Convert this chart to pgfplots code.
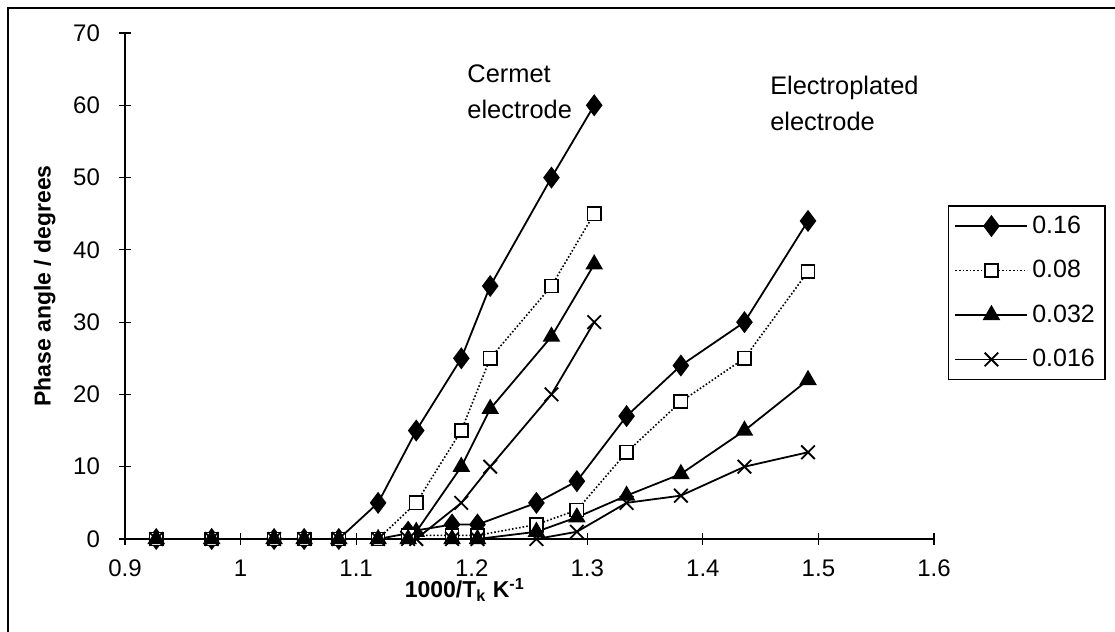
\documentclass[border=0pt]{standalone}
\usepackage{fontspec}
\setmainfont{Liberation Sans}
\usepackage{pgfplots}
\pgfplotsset{compat=1.18}
\begin{document}
\begin{tikzpicture}
\path[use as bounding box] (-62.5pt,-46.5pt) rectangle (495pt,269.5pt);
\draw[line width=0.8pt] (-58.5pt,-46.5pt) -- (-58.5pt,265.5pt) -- (495pt,265.5pt);
\begin{axis}[
    at={(0,0)}, anchor=origin,
    scale only axis,
    width=404.5pt, height=253pt,
    xmin=0.9, xmax=1.6, ymin=0, ymax=70,
    xtick={0.9,1,...,1.6}, ytick={0,10,...,70},
    axis x line=bottom, axis y line=left,
    axis line style={-, line width=0.8pt},
    tick align=center, major tick length=6pt,
    tick style={black, line width=0.6pt},
    /pgf/number format/assume math mode=true,
    ticklabel style={font=\fontsize{12}{14}\selectfont},
    xticklabel style={yshift=-4pt},
    yticklabel style={xshift=-6pt},
    xlabel={\textbf{1000/T\textsubscript{k} K\textsuperscript{-1}}},
    ylabel={\textbf{Phase angle / degrees}},
    label style={font=\fontsize{11.5}{13}\selectfont},
    xlabel style={at={(axis description cs:0.42,0)}, anchor=north, yshift=-16pt},
    ylabel style={yshift=2pt},
    clip=false,
    legend style={at={(axis description cs:1.017,0.66)}, anchor=north west,
        font=\fontsize{12.5}{14}\selectfont, draw=black, line width=0.8pt,
        row sep=8pt, inner sep=3pt, cells={anchor=west}},
    legend image code/.code={\draw[mark repeat=2,mark phase=2] plot coordinates {(0pt,0pt) (18pt,0pt) (36pt,0pt)};},
]
% cermet electrode
\addplot[black, line width=0.9pt, mark=diamond*, mark size=4.8pt]
    coordinates {(0.927,0) (0.975,0) (1.029,0) (1.055,0) (1.085,0) (1.119,5) (1.152,15) (1.191,25) (1.216,35) (1.269,50) (1.306,60)};
\addlegendentry{0.16}
\addplot[black, densely dotted, line width=0.8pt, mark=square*, mark size=3.3pt, mark options={solid, fill=white, draw=black}]
    coordinates {(0.927,0) (0.975,0) (1.029,0) (1.055,0) (1.085,0) (1.119,0) (1.152,5) (1.191,15) (1.216,25) (1.269,35) (1.306,45)};
\addlegendentry{0.08}
\addplot[black, line width=0.9pt, mark=triangle*, mark size=4.2pt]
    coordinates {(0.927,0) (0.975,0) (1.029,0) (1.055,0) (1.085,0) (1.119,0) (1.152,1) (1.191,10) (1.216,18) (1.269,28) (1.306,38)};
\addlegendentry{0.032}
\addplot[black, line width=0.9pt, mark=x, mark size=4.8pt]
    coordinates {(0.927,0) (0.975,0) (1.029,0) (1.055,0) (1.085,0) (1.119,0) (1.152,0) (1.191,5) (1.216,10) (1.269,20) (1.306,30)};
\addlegendentry{0.016}
% electroplated electrode
\addplot[black, line width=0.9pt, mark=diamond*, mark size=4.8pt, forget plot]
    coordinates {(1.145,1) (1.183,2) (1.205,2) (1.256,5) (1.291,8) (1.334,17) (1.381,24) (1.436,30) (1.491,44)};
\addplot[black, densely dotted, line width=0.8pt, mark=square*, mark size=3.3pt, mark options={solid, fill=white, draw=black}, forget plot]
    coordinates {(1.145,0.5) (1.183,0.5) (1.205,0.5) (1.256,2) (1.291,4) (1.334,12) (1.381,19) (1.436,25) (1.491,37)};
\addplot[black, line width=0.9pt, mark=triangle*, mark size=4.2pt, forget plot]
    coordinates {(1.145,0) (1.183,0) (1.205,0) (1.256,1) (1.291,3) (1.334,6) (1.381,9) (1.436,15) (1.491,22)};
\addplot[black, line width=0.9pt, mark=x, mark size=4.8pt, forget plot]
    coordinates {(1.145,0) (1.183,0) (1.205,0) (1.256,0) (1.291,1) (1.334,5) (1.381,6) (1.436,10) (1.491,12)};
\node[anchor=north west, align=left, font=\fontsize{12.7}{18}\selectfont, inner sep=0pt] at (axis cs:1.196,65.7) {Cermet\\electrode};
\node[anchor=north west, align=left, font=\fontsize{12.7}{18}\selectfont, inner sep=0pt] at (axis cs:1.458,64.1) {Electroplated\\electrode};
\end{axis}
\end{tikzpicture}
\end{document}
